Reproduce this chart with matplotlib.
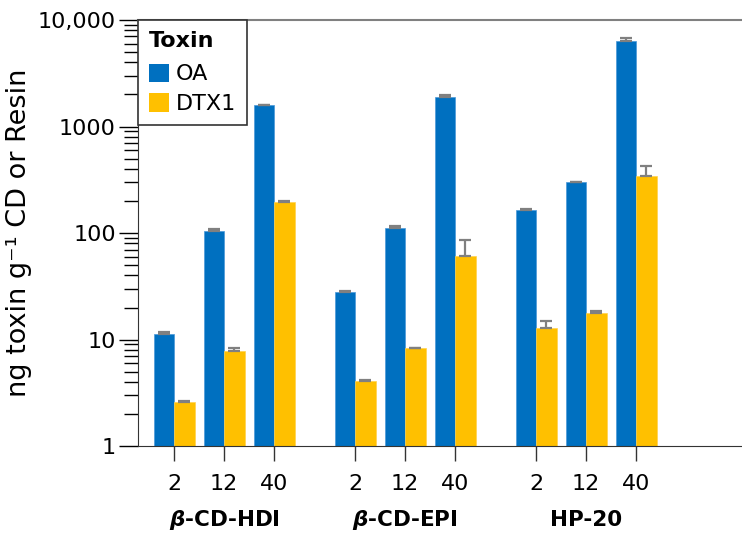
import matplotlib.pyplot as plt
from matplotlib.patches import Patch

plt.rcParams['font.family'] = ['DejaVu Sans']
plt.rcParams['mathtext.fontset'] = 'custom'
plt.rcParams['mathtext.it'] = 'DejaVu Sans:italic:bold'
plt.rcParams['mathtext.rm'] = 'DejaVu Sans:bold'

groups = [r'$\beta$-CD-HDI', r'$\beta$-CD-EPI', 'HP-20']
times = ['2', '12', '40']

# OA / DTX1 means and upper error (per group, per time)
oa_vals = [[11.2, 105, 1580], [27.9, 112, 1905], [164, 299, 6390]]
oa_err = [[0.6, 5, 20], [0.4, 4, 55], [6, 4, 410]]
dtx_vals = [[2.57, 7.85, 197], [4.1, 8.27, 60.8], [12.8, 17.7, 345]]
dtx_err = [[0.06, 0.45, 3], [0.05, 0.13, 25], [2.1, 0.8, 83]]

oa_color = '#0070C0'
dtx_color = '#FFC000'
err_color = '#808080'

group_step = 3.62
bar_w = 0.41

fig = plt.figure(figsize=(7.42, 5.33), dpi=100)
ax = fig.add_axes([0.186, 0.163, 0.814, 0.7995])

tick_pos = []
tick_lab = []
for g in range(len(groups)):
    for i in range(len(times)):
        x = g * group_step + i
        tick_pos.append(x)
        tick_lab.append(times[i])
        ax.bar(x - bar_w / 2, oa_vals[g][i], width=bar_w, color=oa_color,
               edgecolor='#4a98d8', linewidth=0.5,
               yerr=[[0], [oa_err[g][i]]], ecolor=err_color,
               error_kw=dict(capsize=4.5, elinewidth=1.6, capthick=1.6))
        ax.bar(x + bar_w / 2, dtx_vals[g][i], width=bar_w, color=dtx_color,
               edgecolor='#ffd24d', linewidth=0.5,
               yerr=[[0], [dtx_err[g][i]]], ecolor=err_color,
               error_kw=dict(capsize=4.5, elinewidth=1.6, capthick=1.6))
    ax.text(g * group_step + 1, -0.174, groups[g], transform=ax.get_xaxis_transform(),
            ha='center', va='center', fontsize=15.5, fontweight='bold')

ax.set_yscale('log')
ax.set_ylim(1, 10000)
ax.set_xlim(-0.72, 11.36)
ax.set_yticks([1, 10, 100, 1000, 10000])
ax.set_yticklabels(['1', '10', '100', '1000', '10,000'])
ax.set_xticks(tick_pos)
ax.set_xticklabels(tick_lab)

ax.tick_params(axis='y', which='major', length=14, width=1, labelsize=16, pad=2, direction='out')
ax.tick_params(axis='y', which='minor', length=10, width=1, direction='out')
ax.tick_params(axis='x', which='major', length=11, width=1, labelsize=16, pad=9, colors='#333333',
               labelcolor='black')
ax.tick_params(axis='x', which='minor', length=0)

ax.spines['right'].set_visible(False)
ax.spines['top'].set_color('#808080')
ax.spines['top'].set_linewidth(1.5)
ax.spines['left'].set_color('#333333')
ax.spines['bottom'].set_color('#333333')

ax.set_ylabel('ng toxin g⁻¹ CD or Resin', fontsize=19.5, labelpad=4)

handles = [Patch(facecolor=oa_color, label='OA'), Patch(facecolor=dtx_color, label='DTX1')]
leg = ax.legend(handles=handles, title='Toxin', loc='upper left', bbox_to_anchor=(0, 1),
                borderaxespad=0, fontsize=16, title_fontproperties={'weight': 'bold', 'size': 16},
                handlelength=0.9, handleheight=0.9, handletextpad=0.3, borderpad=0.5,
                labelspacing=0.4, fancybox=False, framealpha=1, edgecolor='#333333')
leg._legend_box.align = 'left'
leg._legend_box.sep = 9
leg.get_frame().set_linewidth(1.2)

fig.savefig('out.png', dpi=100)
